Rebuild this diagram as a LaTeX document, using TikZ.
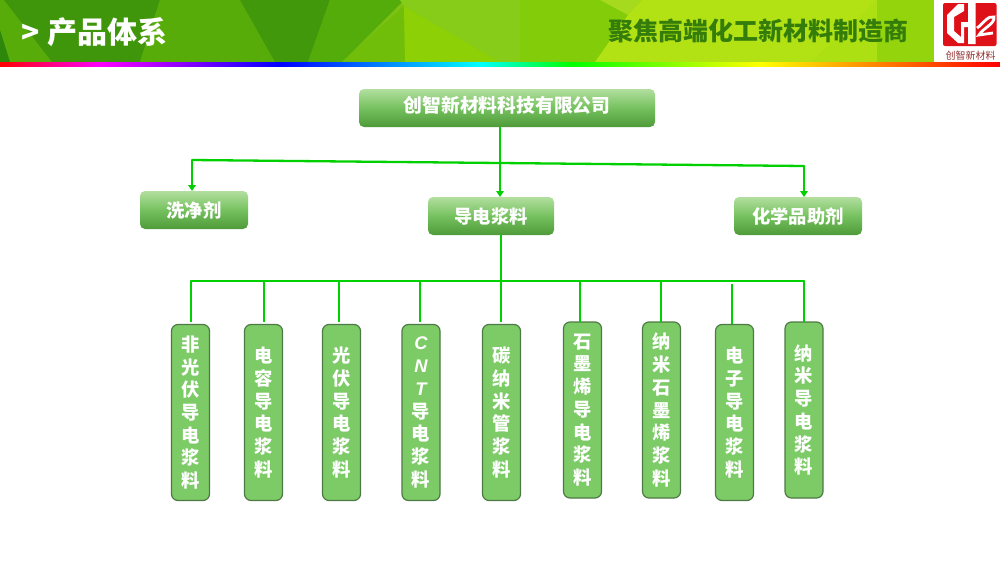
\documentclass[tikz,border=0pt]{standalone}
\usepackage{fontspec}
\setmainfont{Noto Sans CJK SC}
\newfontfamily\latf{Liberation Sans}
\usetikzlibrary{arrows.meta,calc}
\definecolor{lnk}{HTML}{00D000}
\definecolor{vbox}{HTML}{7CCB67}
\definecolor{vedge}{HTML}{4E7A45}
\definecolor{gtop}{HTML}{B2DF9F}
\definecolor{gmid}{HTML}{76C15F}
\definecolor{gbot}{HTML}{4F9A39}
\definecolor{bgA}{RGB}{64,152,10}
\definecolor{bgB}{RGB}{140,205,20}
\definecolor{bgC}{RGB}{130,200,10}
\definecolor{bgD}{RGB}{185,228,20}
\definecolor{p1}{RGB}{64,150,10}
\definecolor{p2}{RGB}{88,172,10}
\definecolor{p3}{RGB}{64,152,10}
\definecolor{p4}{RGB}{84,172,10}
\definecolor{p5}{RGB}{112,190,10}
\definecolor{p6}{RGB}{140,208,5}
\definecolor{p7}{RGB}{134,204,24}
\definecolor{p8}{RGB}{130,204,10}
\definecolor{p9}{RGB}{165,218,30}
\definecolor{p10}{RGB}{178,226,20}
\definecolor{p11}{RGB}{172,224,18}
\definecolor{p12}{RGB}{44,135,10}
\definecolor{p13}{RGB}{148,212,12}
\definecolor{logored}{RGB}{222,16,24}
\definecolor{logotxt}{RGB}{150,50,50}
\definecolor{slogan}{RGB}{52,125,10}
\tikzset{
 x=1pt,y=-1pt,
 hbox/.style={rounded corners=5pt,top color=gtop,bottom color=gbot,middle color=gmid,draw=none,inner sep=0pt,text=white,font=\fontsize{18.3}{20}\selectfont\bfseries,align=center},
 vertbox/.style={rounded corners=6.5pt,fill=vbox,draw=vedge,line width=1.2pt,inner sep=0pt,outer sep=0pt,text=white,font=\fontsize{18.3}{22.7}\selectfont\bfseries,align=center,minimum width=38pt,minimum height=176pt,anchor=north west},
 link/.style={draw=lnk,line width=2.3pt},
 linka/.style={link,-{Triangle[length=6pt,width=7.5pt]}},
}
\begin{document}
\begin{tikzpicture}
\useasboundingbox (0,0) rectangle (1000,562);
\fill[white] (0,0) rectangle (1000,562);
% header background
\fill[left color=bgA,right color=bgB] (0,0) rectangle (500,62);
\fill[left color=bgC,right color=bgD] (500,0) rectangle (934,62);
\fill[p2] (0,0) rectangle (160,62);
\fill[p1] (4,0) -- (160,0) -- (140,62) -- (52,62) -- cycle;
\fill[p2] (160,0) -- (240,0) -- (275,62) -- (140,62) -- cycle;
\fill[p3] (240,0) -- (330,0) -- (308,62) -- (275,62) -- cycle;
\fill[p4] (330,0) -- (404,0) -- (342,62) -- (308,62) -- cycle;
\fill[p5] (404,6) -- (405,62) -- (342,62) -- cycle;
\fill[p6] (404,6) -- (500,62) -- (405,62) -- cycle;
\fill[p7] (400,0) -- (520,0) -- (520,62) -- (500,62) -- (404,6) -- cycle;
\fill[p8] (520,0) -- (642,0) -- (595,62) -- (520,62) -- cycle;
\fill[p9] (600,0) -- (642,0) -- (628,15) -- cycle;
\fill[p10] (642,0) -- (880,0) -- (811,62) -- (595,62) -- (628,15) -- cycle;
\fill[p11] (877,0) -- (811,62) -- (877,62) -- cycle;
\fill[p13] (877,0) rectangle (934,62);
\fill[p12] (0,30) -- (10,62) -- (0,62) -- cycle;
% rainbow strip
\shade[left color=red,right color=magenta] (0,62) rectangle (100,66);
\shade[left color=magenta,right color=blue] (100,62) rectangle (280,66);
\shade[left color=blue,right color=cyan] (280,62) rectangle (480,66);
\shade[left color=cyan,right color=green] (480,62) rectangle (570,66);
\shade[left color=green,right color=yellow] (570,62) rectangle (760,66);
\shade[left color=yellow,right color=red] (760,62) rectangle (1000,66);
% logo
\fill[white] (934,0) rectangle (1000,60);
\fill[logored,rounded corners=2pt] (943,3) rectangle (996.5,46);
\fill[white] (947,15) -- (958,4) -- (964,4) -- (964,11) -- (954,17) -- (954,31) -- (961,37) -- (961,22) -- (968,22) -- (968,3) -- (975.5,3) -- (975.5,44) -- (968,44) -- (968,27) -- (964,27) -- (964,43) -- (958,43) -- (947,33) -- cycle;
\draw[white,line width=2.8pt] (977,28) .. controls (983,24) and (988,15) .. (994,17) .. controls (995,24) and (983,28) .. (979,35) -- (993,33);
\node[inner sep=0pt,text=logotxt,font=\fontsize{10}{11}\selectfont] (logotext) at (970.5,55.5) {创智新材料};
% header text
\node[inner sep=0pt,anchor=west,text=white,font=\fontsize{30}{32}\selectfont\bfseries] (title) at (21,32) {>\hspace{8pt}产品体系};
\node[inner sep=0pt,anchor=east,text=slogan,font=\fontsize{25}{30}\selectfont\bfseries] (sloganT) at (908.5,31) {聚焦高端化工新材料制造商};
% boxes
\node[hbox,minimum width=296pt,minimum height=38pt,font=\fontsize{18.8}{20}\selectfont\bfseries] (root) at (507,108) {\raisebox{-4pt}[0pt][0pt]{创智新材料科技有限公司}};
\node[hbox,minimum width=108pt,minimum height=38pt] (clean) at (194,210) {\raisebox{-0.5pt}{洗净剂}};
\node[hbox,minimum width=126pt,minimum height=38pt] (paste) at (491,216) {\raisebox{-0.5pt}{导电浆料}};
\node[hbox,minimum width=128pt,minimum height=38pt] (chem) at (798,216) {\raisebox{-0.5pt}{化学品助剂}};
\node[vertbox] (v1) at (171.5,324.5) {非\\光\\伏\\导\\电\\浆\\料};
\node[vertbox] (v2) at (244.5,324.5) {电\\容\\导\\电\\浆\\料};
\node[vertbox] (v3) at (322.5,324.5) {光\\伏\\导\\电\\浆\\料};
\node[vertbox] (v4) at (402,324.5) {{\latf\bfseries\itshape C}\\{\latf\bfseries\itshape N}\\{\latf\bfseries\itshape T}\\导\\电\\浆\\料};
\node[vertbox] (v5) at (482.5,324.5) {碳\\纳\\米\\管\\浆\\料};
\node[vertbox] (v6) at (563.5,322) {石\\墨\\烯\\导\\电\\浆\\料};
\node[vertbox] (v7) at (642.5,322) {纳\\米\\石\\墨\\烯\\浆\\料};
\node[vertbox] (v8) at (715.5,324.5) {电\\子\\导\\电\\浆\\料};
\node[vertbox] (v9) at (785,322) {纳\\米\\导\\电\\浆\\料};
% connectors
\coordinate (rootout) at (root.south -| 500,0);
\coordinate (rootmid) at (500,163);
\coordinate (topL) at (192,160);
\coordinate (topR) at (804,166);
\coordinate (pastein) at (500,197);
\coordinate (cleanin) at (192,191);
\coordinate (chemin) at (804,197);
\coordinate (pasteout) at (501,235);
\coordinate (busmid) at (501,281);
\draw[linka] (rootout) -- (pastein);
\draw[link,line join=round] (topL) -- (rootmid) -- (topR);
\draw[linka,line cap=round] (topL) -- (cleanin);
\draw[linka,line cap=round] (topR) -- (chemin);
\draw[link] (pasteout) -- (busmid);
\foreach \n/\x/\ya/\yb in {v1/191/281/322,v2/264/281/322,v3/339/281/322,v4/420/281/322,v5/501/281/322,v6/580/281/322,v7/661/281/322,v8/731.7/283.5/324,v9/804/281/322}{
 \coordinate (bus\n) at (\x,\ya);
 \coordinate (end\n) at (\x,\yb);
 \draw[link] (bus\n) -- (end\n);
}
\draw[link,line cap=round] (busv1) -- (busv9);
\end{tikzpicture}
\end{document}
